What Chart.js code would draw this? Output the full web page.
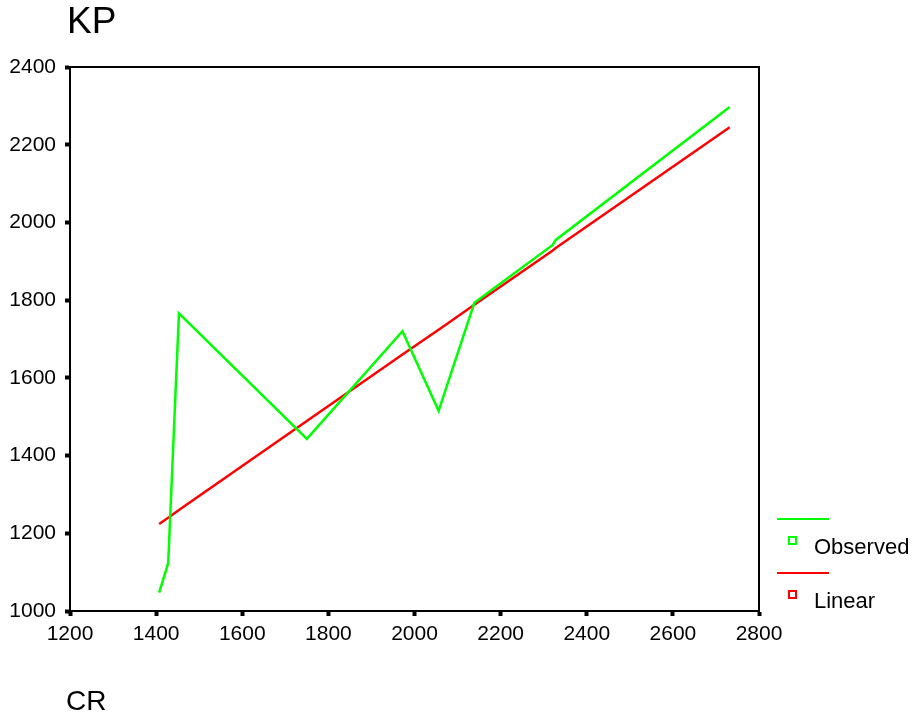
<!DOCTYPE html>
<html lang="en">
<head>
    <meta charset="UTF-8">
    <title>KP vs CR</title>
    <script src="https://cdn.jsdelivr.net/npm/chart.js"></script>
    <style>
        body { margin: 0; background: #fff; }
        #chart { display: block; }
    </style>
</head>
<body>
    <canvas id="chart" width="914" height="718"></canvas>

    <script>
        // data
        const observedCR = [1407, 1428, 1453, 1750, 1972, 2056, 2139, 2321, 2328, 2732];
        const observedKP = [1047, 1123, 1766, 1443, 1720, 1515, 1793, 1942, 1955, 2297];
        const linearCR = [1407, 1428, 1453, 1750, 1972, 2056, 2139, 2321, 2328, 2732];
        const linearKP = [1224, 1240, 1260, 1489, 1660, 1724, 1788, 1928, 1934, 2245];
        const xTicks = [1200, 1400, 1600, 1800, 2000, 2200, 2400, 2600, 2800];
        const yTicks = [1000, 1200, 1400, 1600, 1800, 2000, 2200, 2400];
        const seriesNames = ['Observed', 'Linear'];
        const seriesColors = ['#00ff00', '#ff0000'];

        const FONT = '"Liberation Sans", Arial, sans-serif';

        const toPoints = (xs, ys) => xs.map((x, i) => ({ x: x, y: ys[i] }));

        // frame, titles and the odd SPSS style legend
        const decor = {
            id: 'decor',
            afterDraw(chart) {
                const c = chart.ctx;
                const a = chart.chartArea;
                c.save();
                c.strokeStyle = '#000';
                c.lineWidth = 2;
                c.strokeRect(a.left, a.top, a.right - a.left, a.bottom - a.top);

                c.fillStyle = '#000';
                c.textBaseline = 'alphabetic';
                c.textAlign = 'left';
                c.font = '37px ' + FONT;
                c.fillText('KP', 67, 33);
                c.font = '28px ' + FONT;
                c.fillText('CR', 66, 710);

                // legend
                const rows = [519, 573];
                seriesNames.forEach((name, i) => {
                    const y = rows[i];
                    c.strokeStyle = seriesColors[i];
                    c.lineWidth = 2;
                    c.beginPath();
                    c.moveTo(777, y);
                    c.lineTo(829, y);
                    c.stroke();
                    c.strokeRect(789, y + 18, 7, 7);
                    c.fillStyle = '#000';
                    c.font = '22px ' + FONT;
                    c.fillText(name, 814, y + 35);
                });
                c.restore();
            }
        };

        const tickStyle = {
            display: true,
            drawOnChartArea: false,
            drawTicks: true,
            tickLength: 5,
            tickWidth: 4,
            tickColor: '#000'
        };

        const plain = (v) => String(v);

        new Chart(document.getElementById('chart'), {
            type: 'line',
            data: {
                datasets: [
                    {
                        label: seriesNames[0],
                        data: toPoints(observedCR, observedKP),
                        borderColor: seriesColors[0],
                        borderWidth: 2.5,
                        pointRadius: 0,
                        tension: 0
                    },
                    {
                        label: seriesNames[1],
                        data: toPoints(linearCR, linearKP),
                        borderColor: seriesColors[1],
                        borderWidth: 2.5,
                        pointRadius: 0,
                        tension: 0
                    }
                ]
            },
            options: {
                responsive: false,
                animation: false,
                devicePixelRatio: 1,
                layout: { padding: { left: 0, top: 67, right: 155, bottom: 0 } },
                plugins: {
                    legend: { display: false },
                    tooltip: { enabled: false }
                },
                scales: {
                    x: {
                        type: 'linear',
                        min: 1200,
                        max: 2800,
                        afterBuildTicks: (s) => { s.ticks = xTicks.map(v => ({ value: v })); },
                        afterFit: (s) => { s.height = 107; },
                        grid: tickStyle,
                        border: { display: true, color: '#000', width: 2 },
                        ticks: {
                            color: '#000',
                            font: { family: FONT, size: 21 },
                            padding: 6,
                            maxRotation: 0,
                            callback: plain
                        }
                    },
                    y: {
                        type: 'linear',
                        min: 1000,
                        max: 2400,
                        afterBuildTicks: (s) => { s.ticks = yTicks.map(v => ({ value: v })); },
                        afterFit: (s) => { s.width = 70; },
                        grid: tickStyle,
                        border: { display: true, color: '#000', width: 2 },
                        ticks: {
                            color: '#000',
                            font: { family: FONT, size: 21 },
                            padding: 9,
                            callback: plain
                        }
                    }
                }
            },
            plugins: [decor]
        });
    </script>
</body>
</html>
